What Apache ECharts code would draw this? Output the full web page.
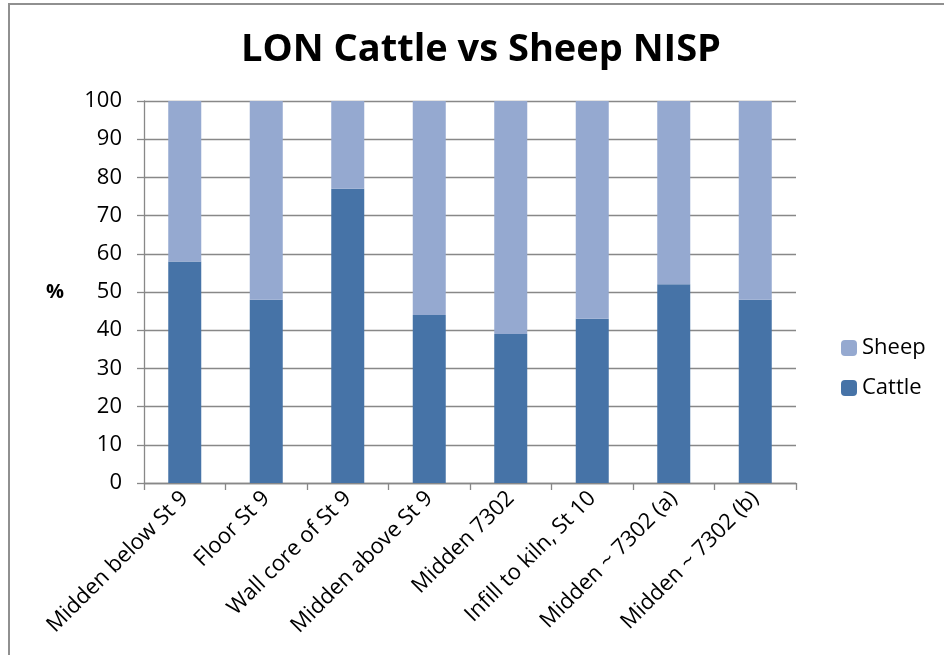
<!DOCTYPE html>
<html>
<head>
<meta charset="utf-8">
<script src="https://cdn.jsdelivr.net/npm/echarts@6/dist/echarts.min.js"></script>
<style>
  html, body { margin: 0; padding: 0; background: #fff; }
  #chart { width: 944px; height: 655px; }
</style>
</head>
<body>
<div id="chart"></div>
<script>
const categories = ['Midden below St 9', 'Floor St 9', 'Wall core of St 9', 'Midden above St 9',
  'Midden 7302', 'Infill to kiln, St 10', 'Midden ~ 7302 (a)', 'Midden ~ 7302 (b)'];
const cattle = [58, 48, 77, 44, 39, 43, 52, 48];
const sheep = [42, 52, 23, 56, 61, 57, 48, 52];
const yTicks = { min: 0, max: 100, interval: 10 };

const font = '"Open Sans", "DejaVu Sans", sans-serif';
const chart = echarts.init(document.getElementById('chart'));

chart.setOption({
  animation: false,
  title: {
    text: 'LON Cattle vs Sheep NISP',
    left: 476, top: 26, textAlign: 'center',
    textStyle: { fontFamily: font, fontSize: 38, fontWeight: 'bold', color: '#000' }
  },
  legend: {
    data: ['Sheep', 'Cattle'],
    orient: 'vertical',
    left: 836, top: 332,
    itemWidth: 16, itemHeight: 16, itemGap: 18,
    textStyle: { fontFamily: font, fontSize: 22, color: '#000' }
  },
  grid: { left: 144, right: 148, top: 101, bottom: 172 },
  xAxis: {
    type: 'category',
    data: categories,
    axisLine: { lineStyle: { color: '#888', width: 1.3 } },
    axisTick: { show: true, length: 7, lineStyle: { color: '#888', width: 1.3 } },
    axisLabel: {
      interval: 0, rotate: 45, margin: 12,
      fontFamily: font, fontSize: 22, color: '#000'
    }
  },
  yAxis: {
    type: 'value',
    min: yTicks.min, max: yTicks.max, interval: yTicks.interval,
    name: '%', nameLocation: 'middle', nameRotate: 0, nameGap: 80,
    nameTextStyle: { fontFamily: font, fontSize: 20, fontWeight: 'bold', color: '#000' },
    axisLine: { show: true, lineStyle: { color: '#888', width: 1.3 } },
    axisTick: { show: true, length: 7, lineStyle: { color: '#888', width: 1.3 } },
    splitLine: { lineStyle: { color: '#888', width: 1.3 } },
    axisLabel: { margin: 22, fontFamily: font, fontSize: 22, color: '#000' }
  },
  series: [
    {
      name: 'Cattle', type: 'bar', stack: 'all', data: cattle, barWidth: 33,
      itemStyle: { color: '#4673A7' }
    },
    {
      name: 'Sheep', type: 'bar', stack: 'all', data: sheep, barWidth: 33,
      itemStyle: { color: '#95A9D0' }
    }
  ],
  graphic: [{
    type: 'rect', silent: true,
    shape: { x: 9, y: 4, width: 1000, height: 700 },
    style: { fill: 'none', stroke: '#909090', lineWidth: 2 }
  }]
});
</script>
</body>
</html>
